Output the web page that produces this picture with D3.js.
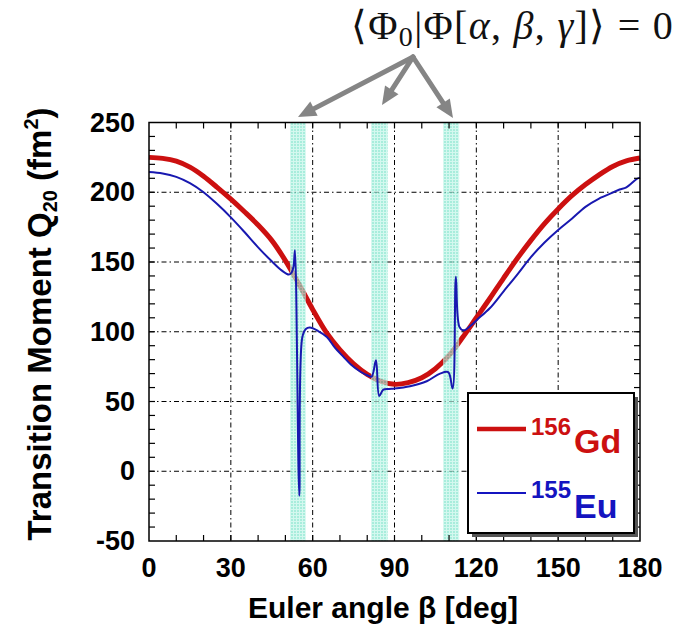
<!DOCTYPE html>
<html><head><meta charset="utf-8">
<script src="https://cdn.jsdelivr.net/npm/d3@7"></script>
<style>body{margin:0;background:#fff}</style>
</head><body>
<svg id="c" width="684" height="634"></svg>
<script>
// ---- data ----
const gdBeta = [0,5,10,15,20,25,30,35,40,45,50,55,60,65,70,75,80,85,90,95,100,105,110,115,120,125,130,135,140,145,150,155,160,165,170,175,180];
const gdQ    = [225,224.3,222.3,218,211.5,203.5,195,186,176.5,165.5,151,134,116,99.5,87,77,69.5,64.5,62.3,63.5,67,73.5,83,96,110,124,138.5,152.5,165.5,177.5,188,197.5,205.5,212.5,218.5,222.5,224.5];
const euBeta = [0,5,10,15,20,25,30,35,40,45,48.6,51.3,52.3,53,53.5,55.1,56.2,57.5,59,62,65.2,68,71.3,74,77.4,80,81.6,83.2,84.4,85.9,88,90,95.7,101.8,106.7,109.7,111.3,112.5,113.8,115.3,118,120.2,125,130,135,140,145,150,155,160,165,170,172.5,175,178.8,180];
const euQ    = [214.5,213.5,211,206.5,200,191.5,182,171.5,160.5,150.5,144,141,142.5,147,158.5,-17.5,96,102,103,100.5,96.3,89,82,76.5,71.5,68.8,67.8,79.5,54,58.5,59,59.3,61,64.5,70,71,59.3,139.4,103.5,101,104.5,108.5,117,129,141,153.5,164,173,181,189.5,195.5,199.7,202,203.5,209.5,210.5];
const bands = [[51.7,57.5],[81.4,87.5],[107.8,113.7]];
const xTicks = [0,30,60,90,120,150,180];
const yTicks = [-50,0,50,100,150,200,250];
const seriesNames = [{sup:"156", main:"Gd"},{sup:"155", main:"Eu"}];

const svg = d3.select("#c");
const x = d3.scaleLinear().domain([0,180]).range([149,640]);
const y = d3.scaleLinear().domain([-50,250]).range([541,122.5]);
const L = 149, R = 640, T = 122.5, B = 541;

// grid
const g = svg.append("g");
g.selectAll(".gx").data(xTicks.filter(d=>d>0&&d<180)).join("line")
  .attr("x1",d=>x(d)).attr("x2",d=>x(d)).attr("y1",T).attr("y2",B)
  .attr("stroke","#000").attr("stroke-width",1).attr("stroke-dasharray","5,3,1.5,3");
g.selectAll(".gy").data(yTicks.filter(d=>d>-50&&d<250)).join("line")
  .attr("y1",d=>y(d)).attr("y2",d=>y(d)).attr("x1",L).attr("x2",R)
  .attr("stroke","#000").attr("stroke-width",1).attr("stroke-dasharray","5,3,1.5,3");

// curves
const line = d3.line().x(d=>x(d[0])).y(d=>y(d[1])).curve(d3.curveCatmullRom.alpha(0.5));
svg.append("path").datum(gdBeta.map((b,i)=>[b,gdQ[i]])).attr("d",line)
  .attr("fill","none").attr("stroke","#cc1010").attr("stroke-width",5).attr("stroke-linejoin","round");

// bands (pattern)
const defs = svg.append("defs");
const pat = defs.append("pattern").attr("id","dots").attr("width",3).attr("height",3).attr("patternUnits","userSpaceOnUse");
pat.append("rect").attr("width",3).attr("height",3).attr("fill","#c0f4e8");
pat.append("rect").attr("width",2).attr("height",2).attr("fill","#7fe4cc");
svg.append("g").selectAll("rect").data(bands).join("rect")
  .attr("x",d=>x(d[0])).attr("width",d=>x(d[1])-x(d[0])).attr("y",T).attr("height",B-T)
  .attr("fill","url(#dots)").attr("opacity",0.68);

svg.append("path").datum(euBeta.map((b,i)=>[b,euQ[i]])).attr("d",line)
  .attr("fill","none").attr("stroke","#1818b0").attr("stroke-width",2).attr("stroke-linejoin","round");

// frame & ticks
svg.append("rect").attr("x",L).attr("y",T).attr("width",R-L).attr("height",B-T)
  .attr("fill","none").attr("stroke","#000").attr("stroke-width",1.5);
const minorX = d3.range(10,180,10), minorY = d3.range(-40,250,10);
const tk = svg.append("g").attr("stroke","#000").attr("stroke-width",1.2);
minorX.forEach(v=>{
  tk.append("line").attr("x1",x(v)).attr("x2",x(v)).attr("y1",B).attr("y2",B-6);
  tk.append("line").attr("x1",x(v)).attr("x2",x(v)).attr("y1",T).attr("y2",T+6);
});
minorY.forEach(v=>{
  tk.append("line").attr("y1",y(v)).attr("y2",y(v)).attr("x1",L).attr("x2",L+6);
  tk.append("line").attr("y1",y(v)).attr("y2",y(v)).attr("x1",R).attr("x2",R-6);
});

// tick labels
const font = "Liberation Sans, Arial, sans-serif";
svg.append("g").selectAll("text").data(xTicks).join("text")
  .attr("x",d=>x(d)).attr("y",577).attr("text-anchor","middle")
  .attr("font-family",font).attr("font-weight","bold").attr("font-size",27).text(d=>d);
svg.append("g").selectAll("text").data(yTicks).join("text")
  .attr("x",135).attr("y",d=>y(d)+9).attr("text-anchor","end")
  .attr("font-family",font).attr("font-weight","bold").attr("font-size",27).text(d=>d);

// axis titles
svg.append("text").attr("x",383).attr("y",618).attr("text-anchor","middle")
  .attr("font-family",font).attr("font-weight","bold").attr("font-size",30).text("Euler angle β [deg]");
const yt = svg.append("text").attr("transform","translate(51,324) rotate(-90)").attr("text-anchor","middle")
  .attr("font-family",font).attr("font-weight","bold").attr("font-size",33);
yt.append("tspan").text("Transition Moment Q");
yt.append("tspan").attr("font-size",20).attr("dy",6).text("20");
yt.append("tspan").attr("dy",-6).text(" (fm");
yt.append("tspan").attr("font-size",20).attr("dy",-13).text("2");
yt.append("tspan").attr("dy",13).text(")");

// legend
const lg = svg.append("g");
lg.append("rect").attr("x",472).attr("y",397).attr("width",166).attr("height",140).attr("fill","#555");
lg.append("rect").attr("x",468).attr("y",393).attr("width",166).attr("height",140).attr("fill","#fff").attr("stroke","#000").attr("stroke-width",2);
const leg = [{c:"#cc1010",w:4.5,ly:429,sb:435,mb:453},{c:"#1414c0",w:2,ly:493,sb:498,mb:518}];
leg.forEach((d,i)=>{
  lg.append("line").attr("x1",477).attr("x2",526).attr("y1",d.ly).attr("y2",d.ly).attr("stroke",d.c).attr("stroke-width",d.w);
  lg.append("text").attr("x",531).attr("y",d.sb).attr("font-family",font).attr("font-weight","bold").attr("font-size",24).attr("fill",d.c).text(seriesNames[i].sup);
  lg.append("text").attr("x",574).attr("y",d.mb).attr("font-family",font).attr("font-weight","bold").attr("font-size",34).attr("fill",d.c).text(seriesNames[i].main);
});

// annotation arrows
const origin = [413,57];
const tips = [[298,117],[382,105],[453,118]];
tips.forEach(t=>{
  const dx=t[0]-origin[0], dy=t[1]-origin[1], len=Math.hypot(dx,dy);
  const k=(len-10)/len;
  svg.append("line").attr("x1",origin[0]).attr("y1",origin[1]).attr("x2",origin[0]+dx*k).attr("y2",origin[1]+dy*k)
    .attr("stroke","#858585").attr("stroke-width",5).attr("stroke-linecap","round");
  const a=Math.atan2(dy,dx);
  const hl=18, hw=8;
  const bx=t[0]-hl*Math.cos(a), by=t[1]-hl*Math.sin(a);
  const px=-Math.sin(a)*hw, py=Math.cos(a)*hw;
  svg.append("path").attr("d",`M${t[0]},${t[1]}L${bx+px},${by+py}L${bx-px},${by-py}Z`).attr("fill","#858585");
});

// annotation formula
const serif = "Liberation Serif, 'Times New Roman', serif";
const an = svg.append("text").attr("x",351).attr("y",39).attr("font-family",serif).attr("font-size",40)
  .attr("letter-spacing",1.3).attr("fill","#111");
an.append("tspan").text("⟨Φ");
an.append("tspan").attr("font-size",28).attr("dy",7).text("0");
an.append("tspan").attr("dy",-7).text("|Φ[");
an.append("tspan").attr("font-style","italic").text("α");
an.append("tspan").text(", ");
an.append("tspan").attr("font-style","italic").text("β");
an.append("tspan").text(", ");
an.append("tspan").attr("font-style","italic").text("γ");
an.append("tspan").text("]⟩ = 0");
</script>
</body></html>
